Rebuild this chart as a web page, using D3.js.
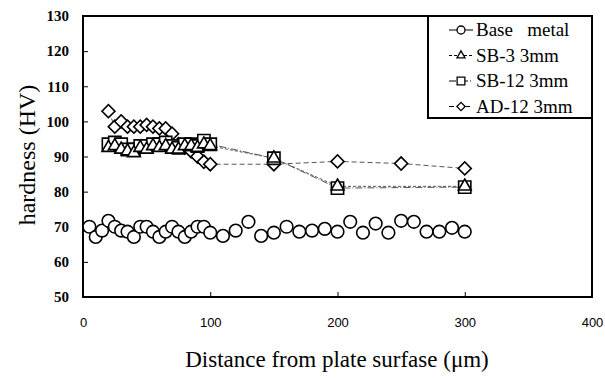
<!DOCTYPE html>
<html>
<head>
<meta charset="utf-8">
<script src="https://cdn.jsdelivr.net/npm/d3@7"></script>
<style>
  body { margin: 0; background: #fff; }
  text { fill: #000; }
</style>
</head>
<body>
<svg width="605" height="378"></svg>
<script>
// base metal
var baseX = [5, 10, 15, 20, 25, 30, 35, 40, 45, 50, 55, 60, 65, 70, 75, 80, 85, 90, 95, 100,
  110, 120, 130, 140, 150, 160, 170, 180, 190, 200, 210, 220, 230, 240, 250, 260, 270, 280, 290, 300];
var baseY = [70, 67.1, 68.9, 71.7, 70, 68.9, 68.6, 67.1, 70, 70, 68.6, 67.1, 68.6, 70, 68.6, 67.1, 68.6, 70, 70, 68.3,
  67.4, 68.9, 71.4, 67.4, 68.3, 70, 68.6, 68.9, 69.4, 68.6, 71.4, 68.3, 70.9, 68.3, 71.7, 71.4, 68.6, 68.6, 69.7, 68.6];

// shot peened samples
var sbX = [20, 25, 30, 35, 40, 45, 50, 55, 60, 65, 70, 75, 80, 85, 90, 95, 100, 150, 200, 300];
var sb3Y = [92.5, 93, 92, 91.5, 91, 92.5, 92, 93, 92.5, 93, 92, 92, 93, 93, 92.5, 93.5, 93, 89.5, 81.5, 81.5];
var sb12Y = [93.5, 94, 93.5, 92, 92, 93, 93, 93.5, 93.5, 94, 93, 92.5, 93.5, 93.5, 93, 94.5, 93.5, 89.5, 81, 81.3];

var adX = [20, 25, 30, 35, 40, 45, 50, 55, 60, 65, 70, 75, 80, 85, 90, 95, 100, 150, 200, 250, 300];
var adY = [102.9, 98.5, 100, 98.5, 98.5, 98.5, 99, 98.5, 98, 98, 96.5, 93.5, 92.5, 91.5, 90, 88.5, 87.8, 87.8, 88.6, 88, 86.6];

var legendNames = ["Base\u00a0\u00a0 metal", "SB-3 3mm", "SB-12 3mm", "AD-12 3mm"];
var xTicks = [0, 100, 200, 300, 400];
var yTicks = [50, 60, 70, 80, 90, 100, 110, 120, 130];

var svg = d3.select("svg");
var serif = "'Liberation Serif', 'DejaVu Serif', serif";

var x = d3.scaleLinear().domain([0, 400]).range([83, 592]);
var y = d3.scaleLinear().domain([50, 130]).range([297, 16]);

// axes, ticks point inwards
var xAxis = svg.append("g")
    .attr("transform", "translate(0,297)")
    .call(d3.axisBottom(x).tickValues(xTicks).tickSizeInner(-5).tickSizeOuter(0).tickPadding(21));
xAxis.selectAll("text")
    .attr("font-family", "'Liberation Sans', Arial, sans-serif")
    .attr("font-size", "13px");

var yAxis = svg.append("g")
    .attr("transform", "translate(83,0)")
    .call(d3.axisLeft(y).tickValues(yTicks).tickSizeInner(-5).tickSizeOuter(0).tickPadding(14));
yAxis.selectAll("text")
    .attr("font-family", serif)
    .attr("font-weight", "bold")
    .attr("font-size", "15px");

svg.selectAll(".domain").remove();
svg.selectAll(".tick line").attr("stroke", "#000");

// frame
svg.append("rect")
    .attr("x", 83).attr("y", 16)
    .attr("width", 592 - 83).attr("height", 297 - 16)
    .attr("fill", "none")
    .attr("stroke", "#000")
    .attr("stroke-width", 2);

// diamond = square turned 45 degrees
var series = [
  {name: legendNames[0], xs: baseX, ys: baseY, sym: d3.symbolCircle, size: 125, rot: 0, dash: null},
  {name: legendNames[1], xs: sbX, ys: sb3Y, sym: d3.symbolTriangle, size: 70, rot: 0, dash: "3,2"},
  {name: legendNames[2], xs: sbX, ys: sb12Y, sym: d3.symbolSquare, size: 150, rot: 0, dash: "7,2,1,2"},
  {name: legendNames[3], xs: adX, ys: adY, sym: d3.symbolSquare, size: 85, rot: 45, dash: "5,3"}
];

var line = d3.line()
    .x(function(d) { return x(d[0]); })
    .y(function(d) { return y(d[1]); });

function pts(s) {
  return s.xs.map(function(v, i) { return [v, s.ys[i]]; });
}

// connecting lines (base metal has none in the plot)
series.slice(1).forEach(function(s) {
  svg.append("path")
      .attr("d", line(pts(s)))
      .attr("fill", "none")
      .attr("stroke", "#555")
      .attr("stroke-width", 1)
      .attr("stroke-dasharray", s.dash);
});

// markers, drawn back to front
[series[3], series[2], series[1], series[0]].forEach(function(s) {
  svg.append("g").selectAll("path")
    .data(pts(s))
    .enter().append("path")
      .attr("transform", function(d) {
        return "translate(" + x(d[0]) + "," + y(d[1]) + ") rotate(" + s.rot + ")";
      })
      .attr("d", d3.symbol().type(s.sym).size(s.size))
      .attr("fill", "#fff")
      .attr("stroke", "#000")
      .attr("stroke-width", 1.6);
});

// legend
var lg = svg.append("g");
lg.append("rect")
    .attr("x", 428).attr("y", 16)
    .attr("width", 592 - 428).attr("height", 118 - 16)
    .attr("fill", "#fff")
    .attr("stroke", "#000")
    .attr("stroke-width", 2);

series.forEach(function(s, i) {
  var cy = 30 + i * 25.5;
  lg.append("line")
      .attr("x1", 449).attr("x2", 473)
      .attr("y1", cy).attr("y2", cy)
      .attr("stroke", "#000")
      .attr("stroke-width", 1)
      .attr("stroke-dasharray", s.dash);
  lg.append("path")
      .attr("transform", "translate(461," + cy + ") rotate(" + s.rot + ")")
      .attr("d", d3.symbol().type(s.sym).size(s.size * 0.4))
      .attr("fill", "#fff")
      .attr("stroke", "#000")
      .attr("stroke-width", 1.3);
  lg.append("text")
      .attr("x", 476).attr("y", cy + 6)
      .attr("font-family", serif)
      .attr("font-size", "19px")
      .text(s.name);
});

// axis titles
svg.append("text")
    .attr("x", 337).attr("y", 367)
    .attr("text-anchor", "middle")
    .attr("font-family", serif)
    .attr("font-size", "23px")
    .text("Distance from plate surfase (\u03bcm)");

svg.append("text")
    .attr("transform", "translate(35,155) rotate(-90)")
    .attr("text-anchor", "middle")
    .attr("font-family", serif)
    .attr("font-size", "24px")
    .text("hardness (HV)");
</script>
</body>
</html>
